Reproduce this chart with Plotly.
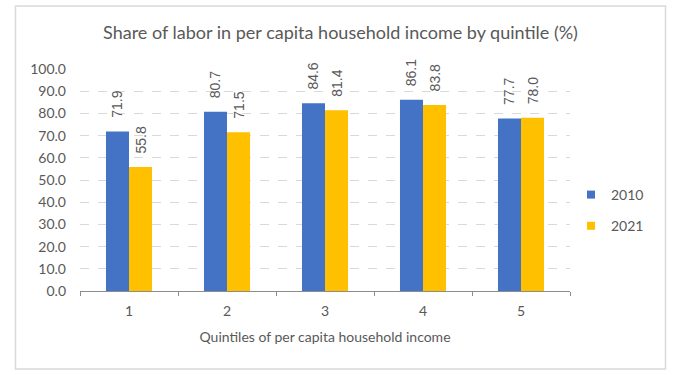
import plotly.graph_objects as go

categories = ["1", "2", "3", "4", "5"]
values_2010 = [71.9, 80.7, 84.6, 86.1, 77.7]
values_2021 = [55.8, 71.5, 81.4, 83.8, 78.0]
series_names = ["2010", "2021"]
colors = ["#4472C4", "#FFC000"]

W, H = 673, 375
L, R, T, B = 80, 103, 69, 84
pw, ph = W - L - R, H - T - B
GRAY = "#595959"
PAD = "\u00a0\u00a0\u2009"

fig = go.Figure()
for i, (name, vals) in enumerate(zip(series_names, [values_2010, values_2021])):
    fig.add_trace(go.Bar(
        x=categories, y=vals, name=name, marker_color=colors[i],
        marker_line_width=0, showlegend=False,
        text=[PAD + f"{v:.1f}" for v in vals], textposition="outside", textangle=-90,
        constraintext="none",
        textfont=dict(family="Liberation Sans, Arial", size=14, color=GRAY),
        cliponaxis=False,
    ))
# legend entries with small square keys
for i, name in enumerate(series_names):
    fig.add_trace(go.Scatter(
        x=[None], y=[None], mode="markers", name=name, legendgroup=name,
        marker=dict(symbol="square", size=8, color=colors[i]),
    ))

def px_x(p):
    return (p - L) / pw

def px_y(p):
    return (H - B - p) / ph

fig.add_shape(type="rect", xref="paper", yref="paper",
              x0=px_x(15.5), x1=px_x(665.5), y0=px_y(369), y1=px_y(6),
              line=dict(color="#d9d9d9", width=1.5), fillcolor="rgba(0,0,0,0)", layer="below")

fig.update_layout(
    width=W, height=H,
    margin=dict(l=L, r=R, t=T, b=B, autoexpand=False),
    paper_bgcolor="white", plot_bgcolor="white",
    barmode="group", bargap=0.53, bargroupgap=0,
    font=dict(family="Lato, Open Sans, sans-serif", size=14, color=GRAY),
    title=dict(text="Share of labor in per capita household income by quintile (%)",
               x=340.5 / W, xanchor="center", y=1 - 33 / H, yanchor="middle",
               font=dict(size=18, color=GRAY)),
    legend=dict(x=px_x(571), y=px_y(179), xanchor="left", yanchor="top",
                traceorder="grouped", tracegroupgap=10,
                font=dict(size=14, color=GRAY), itemwidth=30, bgcolor="rgba(0,0,0,0)"),
    showlegend=True,
    xaxis=dict(type="category", showgrid=False, showline=True, linecolor="#8c8c8c", linewidth=1.3,
               ticks="outside", tickson="boundaries", ticklen=4, tickcolor="#8c8c8c", tickwidth=1.3,
               ticklabelstandoff=7,
               title=dict(text="Quintiles of per capita household income", standoff=14,
                          font=dict(size=14, color=GRAY)),
               tickfont=dict(size=14, color=GRAY)),
    yaxis=dict(range=[0, 100], dtick=10, tickformat=".1f", showgrid=True,
               gridcolor="#d9d9d9", griddash="dash", gridwidth=1, zeroline=False,
               showline=False, ticks="", ticklabelstandoff=13,
               tickfont=dict(size=14, color=GRAY)),
)

fig.write_html("out.html", config={"displayModeBar": False},
               post_script="document.body.style.margin='0';")
